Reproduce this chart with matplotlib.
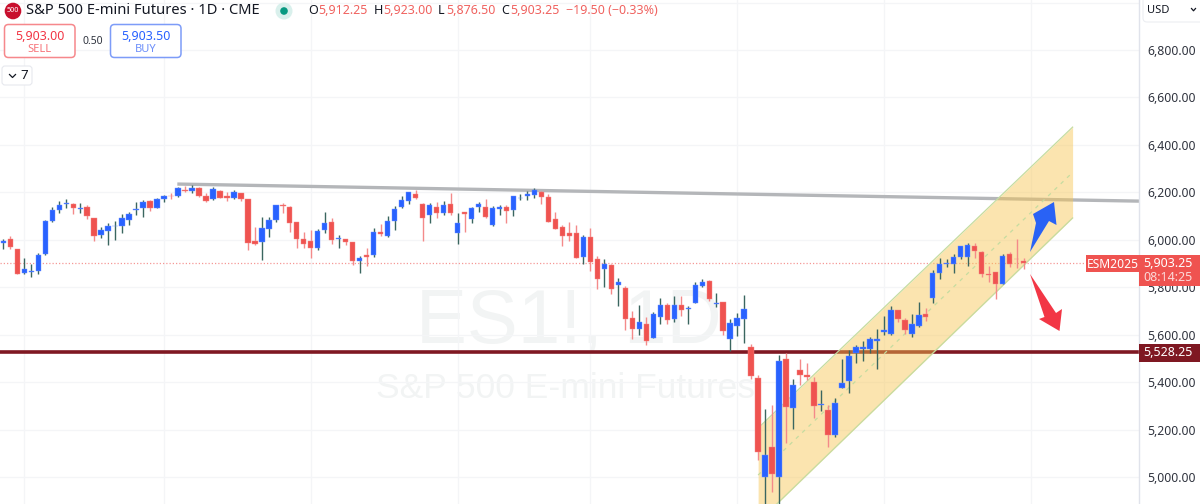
import matplotlib
matplotlib.use('Agg')
import matplotlib.pyplot as plt
from matplotlib.patches import FancyBboxPatch, Circle, Polygon, Rectangle
import numpy as np

plt.rcParams['font.family'] = ['Noto Sans', 'DejaVu Sans']

opens = [5985,6003,5962,5858,5863,5870,5939,6080,6125,6151,
 6149,6130,6138,6093,6019,6035,6057,6058,6085,6125,
 6132,6163,6132,6172,6186,6184,6212,6207,6218,6186,
 6170,6207,6186,6175,6196,6172,5996,5992,6047,6083,
 6146,6138,6075,6003,5996,5965,6041,6076,6002,6003,
 5991,5912,5934,5936,6034,6016,6078,6139,6165,6193,
 6149,6106,6137,6111,6152,6030,6117,6087,6137,6138,
 6061,6131,6138,6125,6175,6186,6190,6200,6179,6086,
 6054,6027,6027,5929,6013,5919,5876,5892,5810,5798,
 5670,5624,5643,5586,5674,5726,5666,5726,5709,5735,
 5806,5827,5730,5737,5581,5638,5666,5546,5418,5001,
 5125,5001,5497,5292,5449,5429,5401,5303,5281,5177,
 5375,5403,5524,5538,5538,5573,5611,5602,5702,5662,
 5604,5638,5685,5756,5862,5896,5899,5928,5926,5975,
 5948,5857,5864,5813,5938,5921,5912.25]
closes = [5993,5968,5856,5878,5867,5934,6079,6124,6145,6154,
 6132,6134,6099,6016,6041,6058,6059,6090,6107,6128,
 6159,6132,6172,6184,6183,6218,6207,6217,6184,6163,
 6214,6177,6175,6200,6170,5985,5982,6048,6082,6145,
 6141,6072,6005,5982,5964,6038,6069,5998,6007,5992,
 5912,5922,5929,6034,6023,6079,6131,6166,6200,6177,
 6092,6145,6113,6145,6111,6069,6110,6134,6152,6094,
 6134,6137,6121,6183,6176,6193,6211,6182,6075,6047,
 6016,6016,5923,6010,5907,5834,5898,5791,5823,5666,
 5624,5653,5572,5688,5725,5662,5726,5706,5712,5809,
 5823,5751,5733,5617,5650,5670,5708,5427,5105,5092,
 5014,5487,5295,5386,5432,5422,5299,5307,5177,5310,
 5397,5508,5546,5550,5581,5581,5618,5706,5664,5621,
 5646,5681,5673,5862,5899,5903,5927,5972,5979,5954,
 5857,5853,5812,5931,5899,5917,5903.25]
highs = [6003,6014,5962,5923,5896,5944,6083,6137,6162,6173,
 6156,6156,6146,6093,6055,6069,6079,6107,6116,6158,
 6168,6168,6177,6190,6196,6224,6228,6232,6224,6196,
 6221,6210,6203,6210,6198,6172,6052,6097,6097,6146,
 6156,6142,6076,6031,6041,6044,6116,6093,6020,6003,
 5991,5932,5964,6048,6065,6100,6142,6184,6203,6212,
 6154,6154,6159,6163,6196,6111,6118,6139,6158,6170,
 6142,6146,6146,6186,6194,6205,6217,6207,6191,6116,
 6062,6073,6062,6020,6048,5931,5917,5898,5837,5805,
 5699,5723,5673,5694,5753,5732,5765,5763,5721,5820,
 5834,5830,5775,5739,5667,5692,5768,5559,5432,5285,
 5302,5515,5524,5415,5496,5481,5420,5366,5303,5335,
 5496,5535,5556,5574,5591,5624,5678,5721,5706,5669,
 5687,5737,5711,5872,5924,5921,5942,5975,5985,5987,
 5951,5889,5865,5938,5947,6003,5923]
lows = [5960,5962,5856,5856,5844,5856,5936,6073,6111,6135,
 6109,6111,6087,5996,6007,5976,6000,6030,6062,6104,
 6097,6123,6132,6158,6170,6182,6203,6198,6179,6161,
 6168,6176,6165,6172,6165,5957,5979,5915,6013,6076,
 6111,6031,5965,5967,5924,5958,6030,5983,5967,5978,
 5894,5858,5891,5929,6017,6013,6041,6135,6149,6170,
 5996,6069,6093,6106,6104,5983,6034,6069,6118,6093,
 6059,6104,6069,6100,6168,6168,6177,6149,6073,6044,
 5974,5995,5922,5899,5869,5792,5799,5770,5722,5619,
 5581,5598,5558,5586,5647,5647,5654,5678,5647,5735,
 5799,5742,5715,5598,5532,5595,5566,5413,5071,4860,
 4938,4860,5143,5203,5387,5408,5250,5279,5125,5170,
 5375,5352,5479,5489,5521,5455,5598,5600,5652,5602,
 5591,5633,5659,5732,5833,5886,5862,5917,5890,5924,
 5844,5823,5751,5812,5886,5879,5876.5]

price_ticks = [5000,5200,5400,5600,5800,6000,6200,6400,6600,6800,7000]
price_labels = ['5,000.00','5,200.00','5,400.00','5,600.00','5,800.00','6,000.00',
                '6,200.00','6,400.00','6,600.00','6,800.00','']
month_ticks = [3,23,44,65,84,105,126,147]

support_level = 5528.25
last_price = 5903.25
resist_x = [24.9, 162.5]
resist_y = [6235, 6163]
chan_x = [108.0, 153.0]
chan_top = [5206, 6475]
chan_mid = [5008, 6284]
chan_bot = [4810, 6092]

BLUE = '#2962ff'; RED = '#ef5350'
W, H = 1200, 504
fig = plt.figure(figsize=(12, 5.04), dpi=100, facecolor='white')
ax = fig.add_axes([0, 0, 1139/W, 1])
ax.set_facecolor('white')
ax.set_xlim(-0.47, 162.5)
ax.set_ylim(4886, 7011)
ax.set_xticks(month_ticks)
ax.set_xticklabels([])
ax.set_yticks(price_ticks)
ax.set_yticklabels(price_labels)
ax.yaxis.tick_right()
ax.tick_params(axis='both', length=0)
ax.tick_params(axis='y', pad=6.2, labelsize=8.8, labelcolor='#30343f')
ax.grid(True, color='#f4f5f7', lw=0.9, zorder=0)
ax.set_axisbelow(True)
for s in ['top', 'left', 'bottom']:
    ax.spines[s].set_visible(False)
ax.spines['right'].set_color('#e0e3eb')
ax.spines['right'].set_linewidth(1.0)

# watermark, behind the candles
wm = dict(family='Liberation Sans', color='#f2f4f4', ha='center', va='center',
          zorder=0.5, transform=fig.transFigure)
ax.text(569/W, 1-323/H, 'ES1!, 1D', fontsize=55, **wm)
ax.text(566/W, 1-388/H, 'S&P 500 E-mini Futures', fontsize=25.5, **wm)

# levels
ax.axhline(last_price, color=RED, lw=0.9, ls=(0, (1, 1.6)), alpha=0.6, zorder=1)
ax.plot(resist_x, resist_y, color='#b4b6b9', lw=2.4, zorder=1.5, solid_capstyle='butt')
ax.axhline(support_level, color='#7f1822', lw=2.6, zorder=1.5)

# channel
ax.fill_between(chan_x, chan_bot, chan_top, color='#f7c54f', alpha=0.45, lw=0, zorder=2)
ax.plot(chan_x, chan_top, color='#c5dca0', lw=0.9, zorder=2.1)
ax.plot(chan_x, chan_bot, color='#c5dca0', lw=0.9, zorder=2.1)
ax.plot(chan_x, chan_mid, color='#c5dca0', lw=0.9, ls=(0, (3, 4)), zorder=2.1)

# candles
xs = np.arange(len(opens))
o = np.array(opens, float); c = np.array(closes, float)
hi = np.array(highs, float); lo = np.array(lows, float)
up = c >= o
ax.vlines(xs[up], lo[up], hi[up], color='#3a6660', lw=1.0, zorder=3)
ax.vlines(xs[~up], lo[~up], hi[~up], color='#f48a8a', lw=1.0, zorder=3)
ax.bar(xs[up], (c-o)[up], bottom=o[up], width=0.76, color=BLUE, edgecolor='#6f93ff', lw=0.3, zorder=4)
ax.bar(xs[~up], (c-o)[~up], bottom=o[~up], width=0.76, color=RED, edgecolor='#f58a88', lw=0.3, zorder=4)

# overlay in pixel space for the chart chrome
ov = fig.add_axes([0, 0, 1, 1], zorder=10)
ov.set_xlim(0, W); ov.set_ylim(H, 0); ov.axis('off'); ov.patch.set_alpha(0)

ov.add_patch(Polygon([(1030,252),(1036,223),(1033,214),(1054,202),(1056.5,225),(1049,221)],
                     closed=True, fc='#2962f5', ec='none'))
ov.add_patch(Polygon([(1030,274),(1056,313),(1062,309),(1059.5,331),(1039,319),(1044.5,317)],
                     closed=True, fc='#f23645', ec='none'))

# header
ov.add_patch(Circle((13, 11), 8.3, fc='#c8102e', ec='none'))
ov.text(13, 11, '500', color='white', fontsize=5.2, ha='center', va='center', weight='bold')
ov.text(26, 10.5, 'S&P 500 E-mini Futures · 1D · CME', color='#131722', fontsize=10.6, ha='left', va='center')
ov.add_patch(Circle((284, 11), 8.5, fc='#d9f0ec', ec='none'))
ov.add_patch(Circle((284, 11), 3.8, fc='#089981', ec='none'))
hdr = '#f0625f'
for x, t, col in [(308,'O','#131722'),(318.5,'5,912.25',hdr),(374,'H','#131722'),(383,'5,923.00',hdr),
                  (437.5,'L','#131722'),(446.5,'5,876.50',hdr),(501.5,'C','#131722'),(510.5,'5,903.25',hdr),
                  (566,'−19.50 (−0.33%)',hdr)]:
    ov.text(x, 10.5, t, color=col, fontsize=9, ha='left', va='center')

# sell/buy
def box(x0, x1, y0, y1, ec, r=4, fc='white', lw=1.1):
    ov.add_patch(FancyBboxPatch((x0+r, y0+r), x1-x0-2*r, y1-y0-2*r,
                 boxstyle=f'round,pad={r},rounding_size={r}', fc=fc, ec=ec, lw=lw))
box(4.5, 75, 24.5, 57.5, '#f6888c')
box(110.5, 181, 24.5, 57.5, '#7d9cf8')
ov.text(39.5, 36, '5,903.00', color='#f23645', fontsize=9, ha='center', va='center', weight='semibold')
ov.text(39.5, 49.5, 'SELL', color='#f7747a', fontsize=8, ha='center', va='center')
ov.text(145.5, 36, '5,903.50', color='#2962ff', fontsize=9, ha='center', va='center', weight='semibold')
ov.text(145.5, 49.5, 'BUY', color='#6d8ffa', fontsize=8, ha='center', va='center')
ov.text(92.5, 41, '0.50', color='#30343f', fontsize=7.5, ha='center', va='center')
box(2, 32, 66, 85, '#e6e8ee', r=3, lw=0.8)
ov.plot([9.5, 12.5, 15.5], [74.5, 77.5, 74.5], color='#131722', lw=0.9)
ov.text(24.5, 75.5, '7', color='#131722', fontsize=9.5, ha='center', va='center')

# USD button
box(1143, 1212, -10, 22, '#eceef2', r=4, lw=0.8)
ov.text(1147, 10.5, 'USD', color='#131722', fontsize=8, ha='left', va='center')
ov.plot([1191.5, 1193.5, 1195.5], [8.5, 10.8, 8.5], color='#131722', lw=0.9)

# price labels
ov.add_patch(Rectangle((1139, 255), 61, 31, fc=RED, ec='none'))
ov.add_patch(Rectangle((1086, 255), 53, 17, fc=RED, ec='none'))
ov.text(1168, 263.5, '5,903.25', color='white', fontsize=9, ha='center', va='center')
ov.text(1168, 277.5, '08:14:25', color='#fbd9d8', fontsize=9, ha='center', va='center')
ov.text(1112.5, 264, 'ESM2025', color='white', fontsize=8.7, ha='center', va='center')
ov.add_patch(Rectangle((1139, 344), 61, 17.5, fc='#7f1822', ec='none'))
ov.text(1168, 352.5, '5,528.25', color='white', fontsize=9, ha='center', va='center')

fig.savefig('out.png', dpi=100, facecolor='white')
